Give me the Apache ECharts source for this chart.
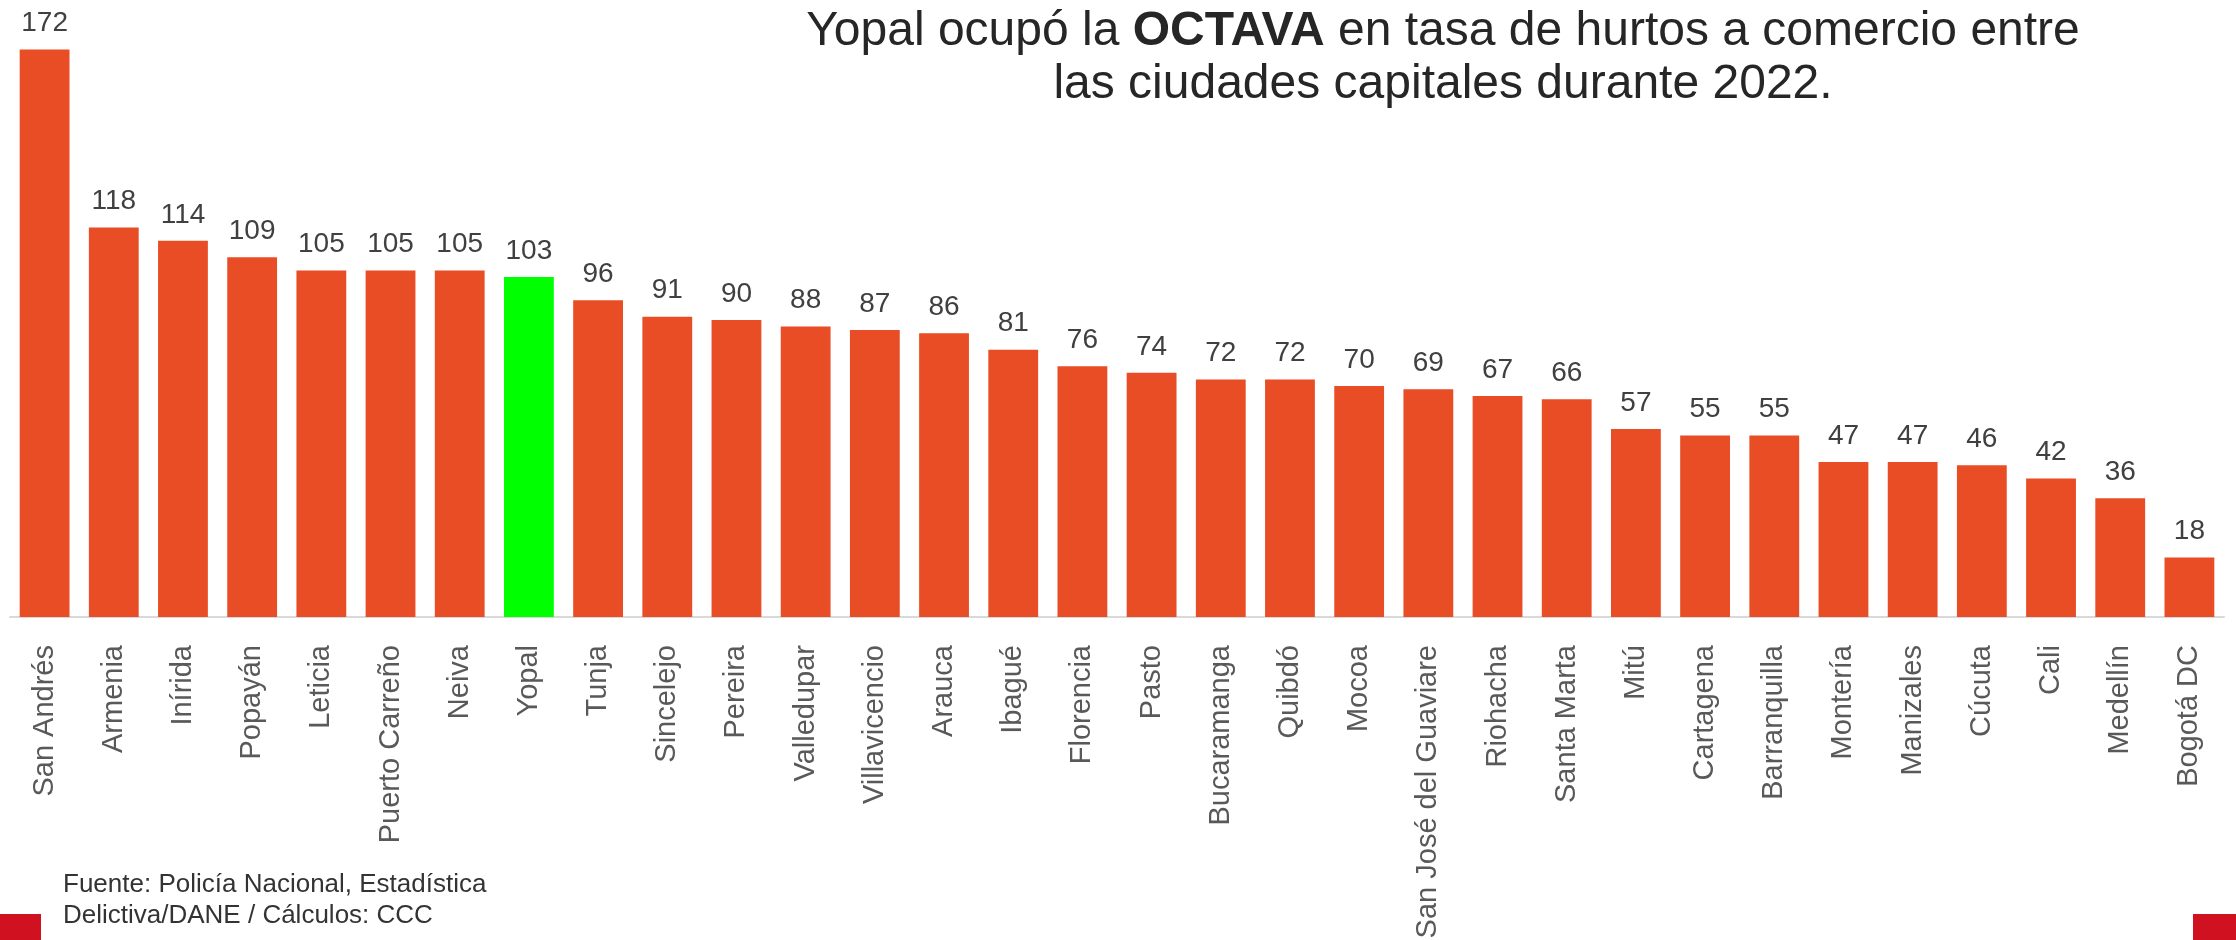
<!DOCTYPE html>
<html>
<head>
<meta charset="utf-8">
<script src="https://cdn.jsdelivr.net/npm/echarts@6/dist/echarts.min.js"></script>
<style>
  html, body { margin: 0; padding: 0; background: #fff; }
  #chart { width: 2236px; height: 940px; }
</style>
</head>
<body>
<div id="chart"></div>
<script>
var cities = ['San Andrés', 'Armenia', 'Inírida', 'Popayán', 'Leticia', 'Puerto Carreño', 'Neiva', 'Yopal',
    'Tunja', 'Sincelejo', 'Pereira', 'Valledupar', 'Villavicencio', 'Arauca', 'Ibagué', 'Florencia', 'Pasto',
    'Bucaramanga', 'Quibdó', 'Mocoa', 'San José del Guaviare', 'Riohacha', 'Santa Marta', 'Mitú', 'Cartagena',
    'Barranquilla', 'Montería', 'Manizales', 'Cúcuta', 'Cali', 'Medellín', 'Bogotá DC'];
var tasa = [172, 118, 114, 109, 105, 105, 105, 103, 96, 91, 90, 88, 87, 86, 81, 76, 74,
    72, 72, 70, 69, 67, 66, 57, 55, 55, 47, 47, 46, 42, 36, 18];
var highlight = 'Yopal';

var font = '"Liberation Sans", Arial, sans-serif';

var barData = [];
for (var i = 0; i < tasa.length; i++) {
    barData.push({
        value: tasa[i],
        itemStyle: { color: cities[i] === highlight ? '#00FF00' : '#E84D25' }
    });
}

var option = {
    animation: false,
    textStyle: { fontFamily: font },
    title: {
        left: 1438, top: 0, textAlign: 'center',
        text: '{n|Yopal ocupó la }{b|OCTAVA}{n| en tasa de hurtos a comercio entre}\n{n|las ciudades capitales durante 2022.}',
        textStyle: {
            fontWeight: 'normal',
            rich: {
                n: { fontFamily: font, fontSize: 48, color: '#262626', fontWeight: 'normal', lineHeight: 53 },
                b: { fontFamily: font, fontSize: 48, color: '#262626', fontWeight: 'bold', lineHeight: 53 }
            }
        }
    },
    grid: { top: 23, left: 10, right: 12, bottom: 323, outerBoundsMode: 'none', containLabel: false },
    xAxis: {
        type: 'category', data: cities,
        axisLine: { lineStyle: { color: '#D9D9D9', width: 2 } },
        axisTick: { length: 9, lineStyle: { color: '#D9D9D9', width: 2 } },
        axisLabel: { rotate: 90, margin: 28, fontSize: 29, color: '#595959', fontFamily: font, interval: 0 }
    },
    yAxis: { type: 'value', min: 0, max: 180, show: false, splitLine: { show: false } },
    series: [{
        type: 'bar', data: barData, barCategoryGap: '28%',
        label: { show: true, position: 'top', distance: 12, fontSize: 28, color: '#404040', fontFamily: font }
    }],
    graphic: [
        {
            type: 'text', left: 63, top: 869,
            style: {
                text: 'Fuente: Policía Nacional, Estadística\nDelictiva/DANE / Cálculos: CCC',
                font: '26px ' + font, fill: '#333333', lineHeight: 31
            }
        },
        { type: 'rect', left: 0, top: 914, shape: { width: 41, height: 26 }, style: { fill: '#D0111F' } },
        { type: 'rect', left: 2193, top: 914, shape: { width: 43, height: 26 }, style: { fill: '#D0111F' } }
    ]
};

var myChart = echarts.init(document.getElementById('chart'));
myChart.setOption(option);
</script>
</body>
</html>
